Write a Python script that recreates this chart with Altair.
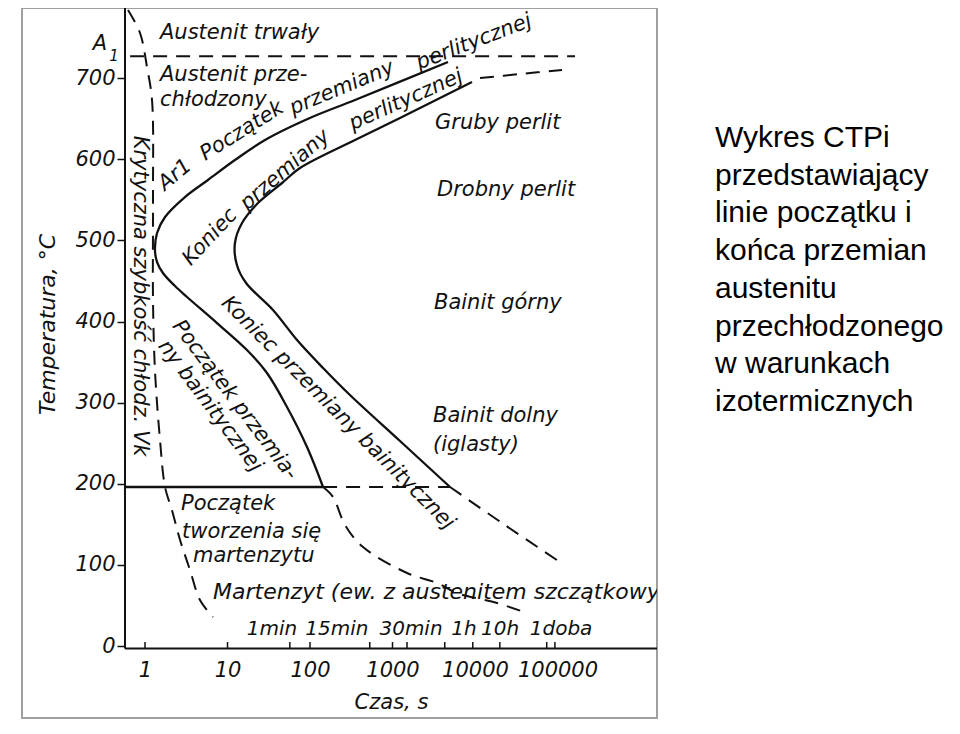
import altair as alt
import pandas as pd

FONT = "DejaVu Sans"
INK = "#111111"

# ---------------- data (time in s, temperature in °C) ----------------
# start of transformation (Ar1 początek przemiany perlitycznej / bainitycznej) - solid
start_t = [4710, 351, 106, 28.5, 12.3, 5.80, 3.05, 1.75, 1.40, 1.32, 1.40, 1.65, 2.31, 3.23, 7.46, 17.2, 30.1, 52.6, 92.0, 144]
start_T = [719.8, 673.0, 652.0, 623.7, 599.0, 574.4, 553.4, 528.8, 509.1, 488.1, 473.3, 459.8, 443.7, 430.2, 398.1, 364.9, 336.5, 294.6, 245.3, 196.0]

# end of transformation (koniec przemiany) - solid
end_t = [9200, 1233, 351, 75.6, 45.8, 23.4, 15.0, 12.3, 13.0, 16.8, 35.6, 69.6, 144, 305, 1233, 4980]
end_T = [695.2, 650.8, 623.7, 589.2, 570.7, 546.0, 521.4, 496.7, 469.6, 447.4, 414.2, 377.2, 342.7, 309.4, 252.7, 196.0]

# dashed continuations
end_top_t = [11500, 35100, 113500]
end_top_T = [700.1, 705.0, 710.0]
end_bot_t = [4980, 23100, 107200]
end_bot_T = [196.0, 149.1, 103.5]

# martensite (dashed)
mf_t = [144, 190, 266, 439, 1500, 3460, 6050, 18500, 42700]
mf_T = [196.0, 183.7, 149.1, 122.0, 90.0, 77.7, 65.3, 53.0, 40.7]

# critical cooling rate Vk (dashed)
vk_t = [0.622, 0.870, 1.057, 1.216, 1.25, 1.25, 1.32, 1.52, 1.75, 2.12, 2.66, 3.51, 4.64, 6.67]
vk_T = [784, 755.6, 713.7, 673.0, 549.7, 426.5, 340.2, 253.9, 196.0, 167.6, 130.7, 93.7, 56.7, 35.7]

# horizontal lines
A1_T = 727
A1_t = [0.66, 163000]
Ms_T = 196
Ms_solid_t = [0.572, 144]
Ms_dash_t = [144, 4980]

# axes
T_MIN, T_MAX = -88.7, 786.4
t_MIN, t_MAX = 0.03229, 1.6069e6
axis_t = 0.572
axis_T = -3
y_ticks = [0, 100, 200, 300, 400, 500, 600, 700]
x_labels = [1, 10, 100, 1000, 10000, 100000]
x_minor_ticks = [1, 10, 57, 100, 530, 1000, 1500, 4300, 9400, 20000, 74000, 93000]

# labels: left aligned, horizontal
left_text = ["Austenit trwały", "Austenit prze-", "chłodzony", "Gruby perlit", "Drobny perlit",
             "Bainit górny", "Bainit dolny", "(iglasty)", "Początek", "tworzenia się", "martenzytu",
             "Martenzyt (ew. z austenitem szczątkowym)"]
left_t = [1.52, 1.52, 1.52, 3273, 3461, 3184, 3097, 3097, 2.73, 2.81, 3.82, 6.67]
left_T = [755.6, 703.8, 673.0, 644.7, 562.1, 422.8, 283.5, 247.8, 175.0, 140.5, 110.9, 66.6]
left_size = [21, 21, 21, 21, 21, 21, 21, 21, 21, 21, 21, 22]

# labels: centred, possibly rotated
rot_text = ["Ar1", "Początek", "przemiany", "perlitycznej",
            "Koniec", "przemiany", "perlitycznej",
            "Krytyczna szybkość chłodz. Vk",
            "Początek przemia-", "ny bainitycznej",
            "Koniec przemiany bainitycznej",
            "1min", "15min", "30min", "1h", "10h", "1doba"]
rot_t = [2.31, 15.0, 244, 9720,
         6.14, 49.8, 1458,
         0.870,
         12.3, 6.14,
         218,
         34.6, 212, 1676, 7360, 20100, 110300]
rot_T = [580.6, 634.8, 687.8, 744.5,
         504.1, 586.7, 673.0,
         431.4,
         303.2, 295.8,
         287.2,
         21.0, 21.0, 21.0, 21.0, 21.0, 21.0]
rot_angle = [320, 328, 337.5, 339,
             313, 319, 336,
             90,
             53, 53,
             45,
             0, 0, 0, 0, 0, 0]
rot_size = [21, 21, 21, 21,
            21, 21, 21,
            21,
            21, 21,
            21,
            20, 20, 20, 20, 20, 20]

a1_text = ["A", "1"]
a1_t = [0.285, 0.421]
a1_T = [742.0, 727.2]
a1_size = [21, 15]

note_lines = ["Wykres CTPi", "przedstawiający", "linie początku i", "końca przemian",
              "austenitu", "przechłodzonego", "w warunkach", "izotermicznych"]

# ---------------- tables ----------------
def curve(name, ts, Ts):
    return pd.DataFrame({"t": ts, "T": Ts, "curve": name, "i": list(range(len(ts)))})

solid_df = pd.concat([
    curve("start", start_t, start_T),
    curve("end", end_t, end_T),
    curve("ms", Ms_solid_t, [Ms_T] * 2),
])
dashed_df = pd.concat([
    curve("end_top", end_top_t, end_top_T),
    curve("end_bot", end_bot_t, end_bot_T),
    curve("mf", mf_t, mf_T),
    curve("vk", vk_t, vk_T),
    curve("a1", A1_t, [A1_T] * 2),
    curve("ms_d", Ms_dash_t, [Ms_T] * 2),
])
axes_df = pd.DataFrame({"t": [axis_t, axis_t], "t2": [axis_t, t_MAX],
                        "T": [axis_T, axis_T], "T2": [T_MAX, axis_T]})
ticks_df = pd.DataFrame({"t": x_minor_ticks, "T": [axis_T] * len(x_minor_ticks),
                         "T2": [5] * len(x_minor_ticks)})
left_df = pd.DataFrame({"label": left_text, "t": left_t, "T": left_T, "s": left_size})
rot_df = pd.DataFrame({"label": rot_text, "t": rot_t, "T": rot_T, "ang": rot_angle, "s": rot_size})
a1_df = pd.DataFrame({"label": a1_text, "t": a1_t, "T": a1_T, "s": a1_size})

# ---------------- scales & axes ----------------
xscale = alt.Scale(type="log", domain=[t_MIN, t_MAX], nice=False)
yscale = alt.Scale(domain=[T_MIN, T_MAX], nice=False, zero=False)

xaxis = alt.Axis(orient="bottom", offset=-71, values=x_labels, format="d",
                 ticks=False, tickSize=0, domain=False, grid=False,
                 labelFont=FONT, labelFontStyle="italic", labelFontSize=21, labelColor=INK,
                 labelPadding=12, labelFlush=False, labelOverlap=False,
                 title="Czas, s", titleFont=FONT, titleFontStyle="italic",
                 titleFontWeight="normal", titleFontSize=21, titleColor=INK,
                 titleX=369, titleY=55, titleAlign="center", titleBaseline="middle")
yaxis = alt.Axis(orient="left", offset=-103, values=y_ticks,
                 tickSize=8, tickWidth=1.5, tickColor=INK, domain=False, grid=False,
                 labelFont=FONT, labelFontStyle="italic", labelFontSize=21, labelColor=INK,
                 labelPadding=2, labelFlush=False, labelOverlap=False,
                 title="Temperatura, °C", titleFont=FONT, titleFontStyle="italic",
                 titleFontWeight="normal", titleFontSize=22, titleColor=INK,
                 titleX=-78, titleY=316, titleAngle=270, titleAlign="center",
                 titleBaseline="middle")

X = alt.X("t:Q", scale=xscale, axis=xaxis)
Y = alt.Y("T:Q", scale=yscale, axis=yaxis)

solid = alt.Chart(solid_df).mark_line(
    color=INK, strokeWidth=2.3, interpolate="catmull-rom"
).encode(x=X, y=Y, detail="curve:N", order="i:Q")

dashed = alt.Chart(dashed_df).mark_line(
    color=INK, strokeWidth=2, strokeDash=[14, 9], interpolate="catmull-rom"
).encode(x=X, y=Y, detail="curve:N", order="i:Q")

axis_lines = alt.Chart(axes_df).mark_rule(color=INK, strokeWidth=2).encode(
    x=X, x2="t2:Q", y=Y, y2="T2:Q")

minor = alt.Chart(ticks_df).mark_rule(color=INK, strokeWidth=1.5).encode(
    x=X, y=Y, y2="T2:Q")

left_labels = alt.Chart(left_df).mark_text(
    align="left", baseline="middle", font=FONT, fontStyle="italic",
    color=INK, clip=True
).encode(x=X, y=Y, text="label:N", size=alt.Size("s:Q", scale=None))

rot_labels = alt.Chart(rot_df).mark_text(
    align="center", baseline="middle", font=FONT, fontStyle="italic",
    color=INK
).encode(x=X, y=Y, text="label:N", angle=alt.Angle("ang:Q", scale=None),
         size=alt.Size("s:Q", scale=None))

a1_labels = alt.Chart(a1_df).mark_text(
    align="center", baseline="middle", font=FONT, fontStyle="italic", color=INK
).encode(x=X, y=Y, text="label:N", size=alt.Size("s:Q", scale=None))

note = alt.Chart(pd.DataFrame({"k": [0]})).mark_text(
    align="left", baseline="alphabetic", font="Liberation Sans", fontSize=30,
    lineHeight=37.7, color="#000000", text=note_lines
).encode(x=alt.value(693), y=alt.value(139))

chart = alt.layer(
    solid, dashed, axis_lines, minor, left_labels, rot_labels, a1_labels, note
).properties(
    width=635, height=710,
    autosize=alt.AutoSizeParams(type="none"),
    padding={"left": 14, "top": 0, "right": 295, "bottom": 8},
).configure_view(
    stroke="#a0a0a0", strokeWidth=2
)

chart.save("out.html", embed_options={"renderer": "svg", "actions": False})
